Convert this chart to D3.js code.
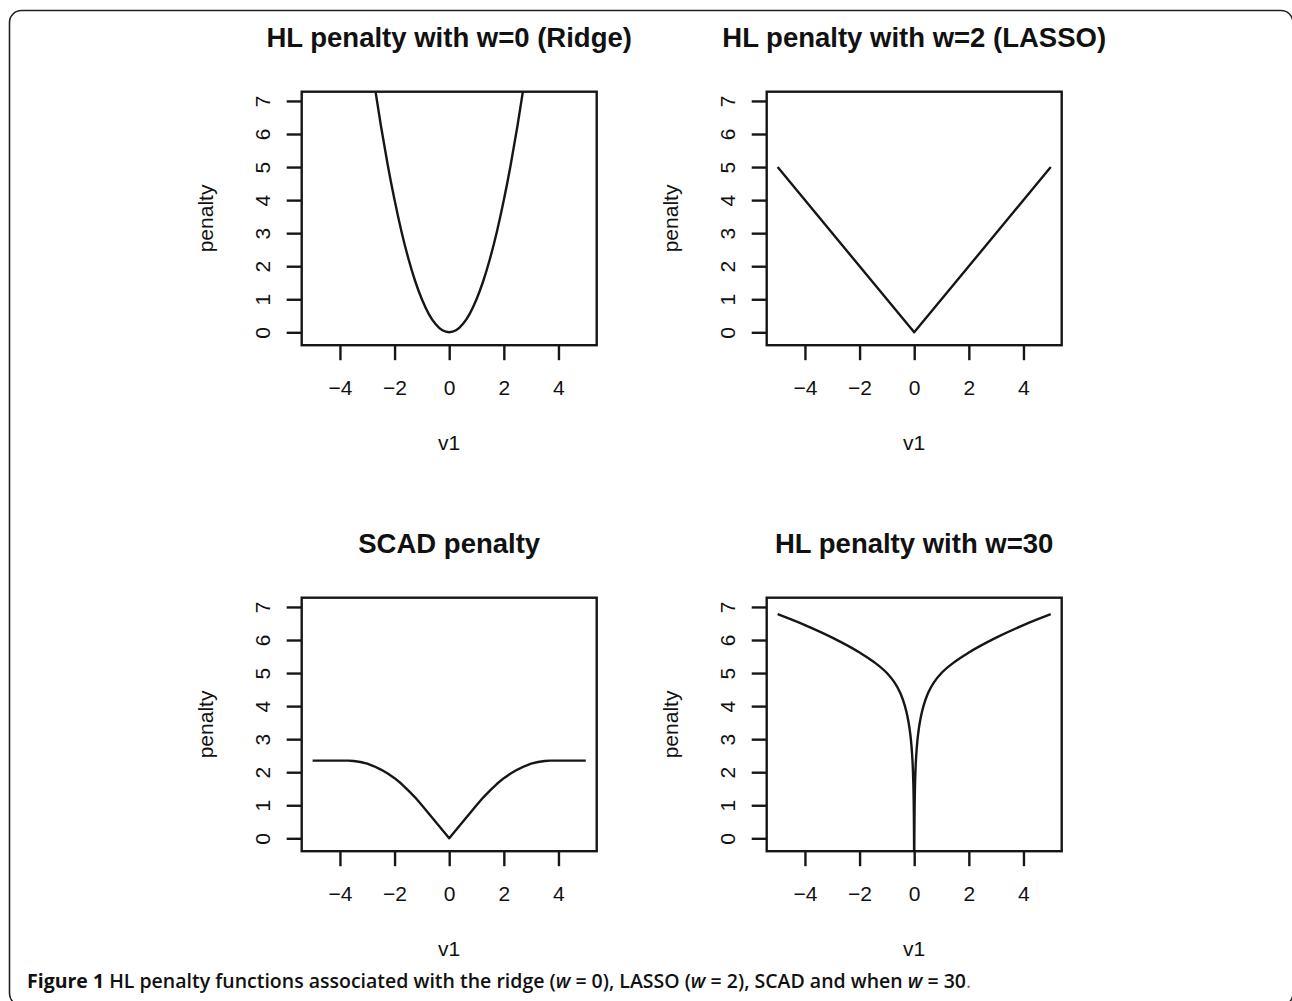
<!DOCTYPE html>
<html>
<head>
<meta charset="utf-8">
<script src="https://cdn.jsdelivr.net/npm/d3@7"></script>
<style>
  body { margin: 0; background: #fff; }
  svg { display: block; }
  .tick text { font-family: "Liberation Sans", Arial, sans-serif; font-size: 21px; fill: #111; }
</style>
</head>
<body>
<div id="chart"></div>
<script>
// values
var xTicks = [-4, -2, 0, 2, 4];
var yTicks = [0, 1, 2, 3, 4, 5, 6, 7];

var ridgeX = [-3, -2.75, -2.5, -2.25, -2, -1.75, -1.5, -1.25, -1, -0.75, -0.5, -0.25, 0,
              0.25, 0.5, 0.75, 1, 1.25, 1.5, 1.75, 2, 2.25, 2.5, 2.75, 3];
var ridgeY = [9, 7.56, 6.25, 5.06, 4, 3.06, 2.25, 1.56, 1, 0.56, 0.25, 0.06, 0,
              0.06, 0.25, 0.56, 1, 1.56, 2.25, 3.06, 4, 5.06, 6.25, 7.56, 9];

var lassoX = [-5, 0, 5];
var lassoY = [5, 0, 5];

var scadX = [-5, -4.5, -4, -3.7, -3.5, -3.25, -3, -2.75, -2.5, -2.25, -2, -1.75, -1.5, -1.25, -1, -0.5, 0,
             0.5, 1, 1.25, 1.5, 1.75, 2, 2.25, 2.5, 2.75, 3, 3.25, 3.5, 3.7, 4, 4.5, 5];
var scadY = [2.35, 2.35, 2.35, 2.35, 2.34, 2.31, 2.26, 2.18, 2.08, 1.96, 1.82, 1.65, 1.45, 1.24, 1, 0.5, 0,
             0.5, 1, 1.24, 1.45, 1.65, 1.82, 1.96, 2.08, 2.18, 2.26, 2.31, 2.34, 2.35, 2.35, 2.35, 2.35];

var hl30X = [-5, -4, -3, -2, -1.5, -1, -0.75, -0.5, -0.35, -0.25, -0.17, -0.12, -0.08, -0.05, -0.03, -0.02, -0.012, -0.008, -0.005, -0.003,
             0.003, 0.005, 0.008, 0.012, 0.02, 0.03, 0.05, 0.08, 0.12, 0.17, 0.25, 0.35, 0.5, 0.75, 1, 1.5, 2, 3, 4, 5];
var hl30Y = [6.78, 6.45, 6.07, 5.62, 5.35, 5.0, 4.75, 4.38, 4.03, 3.7, 3.32, 2.98, 2.58, 2.12, 1.61, 1.2, 0.7, 0.3, -0.17, -0.68,
             -0.68, -0.17, 0.3, 0.7, 1.2, 1.61, 2.12, 2.58, 2.98, 3.32, 3.7, 4.03, 4.38, 4.75, 5.0, 5.35, 5.62, 6.07, 6.45, 6.78];

var titles = ["HL penalty with w=0 (Ridge)", "HL penalty with w=2 (LASSO)", "SCAD penalty", "HL penalty with w=30"];
var xLabel = "v1";
var yLabel = "penalty";

var W = 1292, H = 1001;
var boxW = 295, boxH = 253.5;
var ink = "#161616";

var svg = d3.select("#chart").append("svg")
  .attr("width", W)
  .attr("height", H);

svg.append("rect").attr("width", W).attr("height", H).attr("fill", "#fff");

// page frame (rounded, running off right/bottom edges)
svg.append("rect")
  .attr("x", 9.5).attr("y", 10.5)
  .attr("width", 1283.5).attr("height", 995)
  .attr("rx", 12).attr("ry", 12)
  .attr("fill", "none")
  .attr("stroke", "#222")
  .attr("stroke-width", 1.6);

var x = d3.scaleLinear().domain([-5.4, 5.4]).range([0, boxW]);
var y = d3.scaleLinear().domain([-0.39, 7.28]).range([boxH, 0]);

var panels = [
  {left: 301.7, top: 91.7, xs: ridgeX, ys: ridgeY, curve: d3.curveMonotoneX},
  {left: 766.7, top: 91.7, xs: lassoX, ys: lassoY, curve: d3.curveLinear},
  {left: 301.7, top: 597.7, xs: scadX, ys: scadY, curve: d3.curveLinear},
  {left: 766.7, top: 597.7, xs: hl30X, ys: hl30Y, curve: d3.curveMonotoneX}
];

panels.forEach(function(p, i){
  var g = svg.append("g").attr("transform", "translate(" + p.left + "," + p.top + ")");
  createPanel(g, p, titles[i], i);
});

function createPanel(g, p, title, i){
  var clipId = "clip" + i;
  g.append("clipPath").attr("id", clipId)
    .append("rect").attr("width", boxW).attr("height", boxH);

  var pts = p.xs.map(function(v, k){ return [v, p.ys[k]]; });
  var line = d3.line()
    .x(function(d){ return x(d[0]); })
    .y(function(d){ return y(d[1]); })
    .curve(p.curve);

  g.append("path")
    .datum(pts)
    .attr("clip-path", "url(#" + clipId + ")")
    .attr("d", line)
    .attr("fill", "none")
    .attr("stroke", ink)
    .attr("stroke-width", 2.4)
    .attr("stroke-linejoin", "round");

  // x axis
  var gx = g.append("g")
    .attr("transform", "translate(0," + boxH + ")")
    .call(d3.axisBottom(x).tickValues(xTicks).tickSize(15).tickSizeOuter(0).tickPadding(0)
      .tickFormat(function(d){ return d < 0 ? "\u2212" + Math.abs(d) : d; }));
  gx.select(".domain").remove();
  gx.selectAll(".tick line").attr("stroke", ink).attr("stroke-width", 2.4);
  gx.selectAll(".tick text").attr("y", 50).attr("dy", 0);

  // y axis, labels rotated like R's default
  var gy = g.append("g")
    .call(d3.axisLeft(y).tickValues(yTicks).tickSize(15).tickSizeOuter(0));
  gy.select(".domain").remove();
  gy.selectAll(".tick line").attr("stroke", ink).attr("stroke-width", 2.4);
  gy.selectAll(".tick text")
    .attr("transform", "rotate(-90)")
    .attr("x", 0).attr("y", -32).attr("dy", 0)
    .attr("text-anchor", "middle");

  // plot box
  g.append("rect")
    .attr("width", boxW).attr("height", boxH)
    .attr("fill", "none")
    .attr("stroke", ink)
    .attr("stroke-width", 2.4);

  g.append("text")
    .attr("x", boxW / 2).attr("y", -45)
    .attr("text-anchor", "middle")
    .style("font-family", "'Liberation Sans', Arial, sans-serif")
    .style("font-weight", "bold")
    .style("font-size", "27.5px")
    .style("fill", "#111")
    .text(title);

  g.append("text")
    .attr("x", boxW / 2).attr("y", boxH + 105)
    .attr("text-anchor", "middle")
    .style("font-family", "'Liberation Sans', Arial, sans-serif")
    .style("font-size", "21px")
    .style("fill", "#111")
    .text(xLabel);

  g.append("text")
    .attr("transform", "translate(-89," + (boxH / 2) + ") rotate(-90)")
    .attr("text-anchor", "middle")
    .style("font-family", "'Liberation Sans', Arial, sans-serif")
    .style("font-size", "21px")
    .style("fill", "#111")
    .text(yLabel);
}

// caption
var cap = svg.append("text")
  .attr("x", 27).attr("y", 988)
  .style("font-family", "'Open Sans', 'Noto Sans', sans-serif")
  .style("font-size", "19.5px")
  .style("font-weight", 600)
  .style("fill", "#111");
cap.append("tspan").style("font-weight", "bold").text("Figure 1");
cap.append("tspan").text(" HL penalty functions associated with the ridge (");
cap.append("tspan").style("font-style", "italic").text("w");
cap.append("tspan").text(" = 0), LASSO (");
cap.append("tspan").style("font-style", "italic").text("w");
cap.append("tspan").text(" = 2), SCAD and when ");
cap.append("tspan").style("font-style", "italic").text("w");
cap.append("tspan").text(" = 30");
cap.append("tspan").style("fill", "#777").style("font-weight", 400).text(".");
</script>
</body>
</html>
